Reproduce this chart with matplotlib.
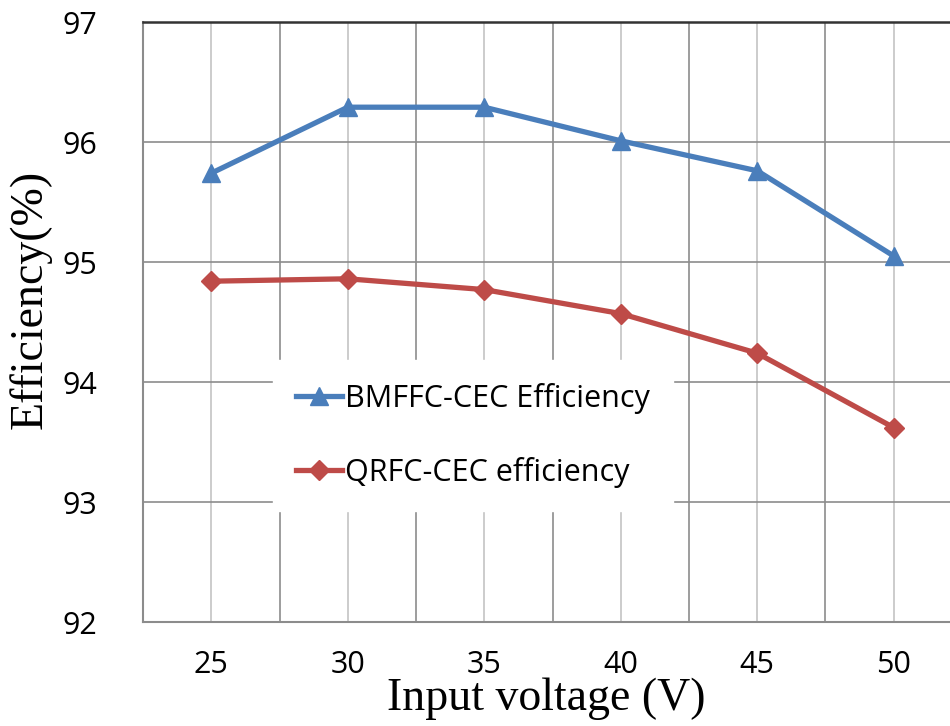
import numpy as np
import matplotlib as mpl
mpl.use('agg')
import matplotlib.pyplot as plt

voltage = ['25', '30', '35', '40', '45', '50']
bmffc_eff = [95.74, 96.29, 96.29, 96.01, 95.76, 95.05]
qrfc_eff = [94.84, 94.86, 94.77, 94.57, 94.24, 93.62]
y_ticks = [92, 93, 94, 95, 96, 97]

fig = plt.figure(figsize=(9.5, 7.26), dpi=100)
ax = fig.add_axes([143/950, 104/726, 819/950, 600/726])

x = np.arange(len(voltage))
ax.plot(x, bmffc_eff, color='#4a7ebb', lw=3.8, marker='^', ms=13,
        label='BMFFC-CEC Efficiency', zorder=3)
ax.plot(x, qrfc_eff, color='#be4b48', lw=3.8, marker='D', ms=10,
        label='QRFC-CEC efficiency', zorder=3)

ax.set_xlim(-0.5, len(voltage) - 0.5)
ax.set_ylim(92, 97)
ax.set_xticks(x)
ax.set_xticklabels(voltage)
ax.set_yticks(y_ticks)
ax.tick_params(length=0, labelsize=22)
ax.tick_params(axis='x', pad=20)
ax.tick_params(axis='y', pad=33)
for lab in ax.get_xticklabels() + ax.get_yticklabels():
    lab.set_family('Open Sans')

# grid: light lines at categories, darker at boundaries
for xi in x:
    ax.axvline(xi, color='#c4c4c4', lw=1.2, zorder=1)
for xb in np.arange(0.5, len(voltage) - 0.5, 1):
    ax.axvline(xb, color='#8c8c8c', lw=1.2, zorder=1)
for yv in y_ticks[1:-1]:
    ax.axhline(yv, color='#8c8c8c', lw=1.2, zorder=1)

for s in ['left', 'bottom']:
    ax.spines[s].set_color('#8c8c8c')
    ax.spines[s].set_linewidth(1.5)
ax.spines['top'].set_color('#333333')
ax.spines['top'].set_linewidth(1.8)
ax.spines['right'].set_visible(False)

ax.set_xlabel('Input voltage (V)', family='Liberation Serif', fontsize=33)
ax.xaxis.set_label_coords(0.4918, -0.092)
ax.set_ylabel('Efficiency(%)', family='Liberation Serif', fontsize=33)
ax.yaxis.set_label_coords(-0.112, 0.537)

leg = ax.legend(loc='upper left', bbox_to_anchor=(130/819, 262/600),
                frameon=True, fancybox=False, framealpha=1, edgecolor='white',
                prop={'family': 'Open Sans', 'size': 22}, labelspacing=1.4,
                handlelength=1.5, handletextpad=0.1, borderpad=0.75,
                borderaxespad=0)
leg.set_zorder(4)

plt.savefig('out.png')
